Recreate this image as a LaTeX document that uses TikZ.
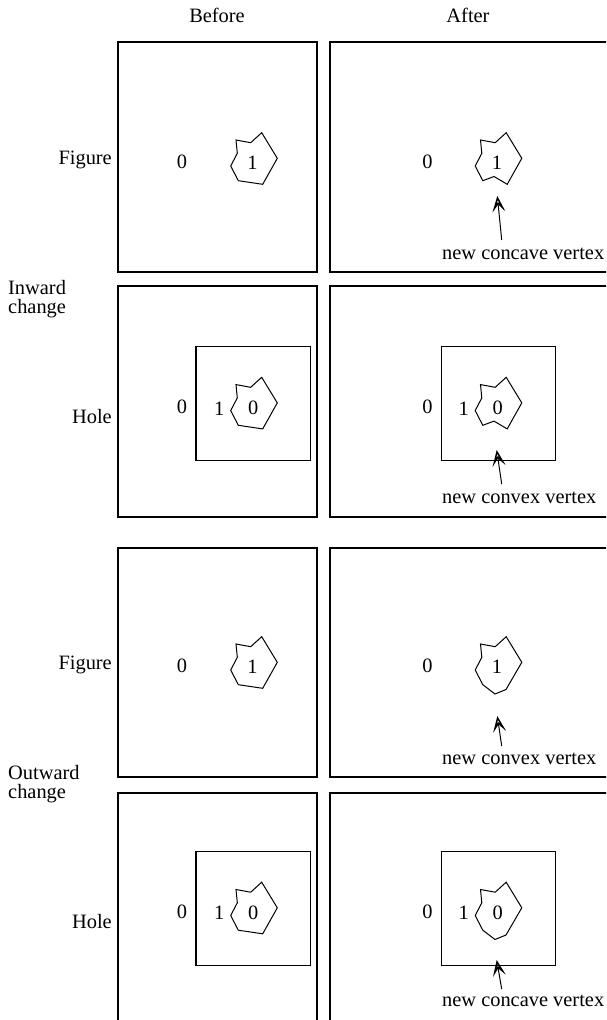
\documentclass[tikz,border=0pt]{standalone}
\usepackage{fontspec}
\setmainfont{Liberation Serif}
\usetikzlibrary{arrows.meta}
\begin{document}
\begin{tikzpicture}[x=1pt,y=-1pt,
  frame/.style={line width=1.3pt},
  blob/.style={line width=1pt, line join=miter},
  lbl/.style={font=\fontsize{20.4}{24}\selectfont, inner sep=0pt},
  ptr/.style={line width=1pt, -{Stealth[open, length=16pt, width=13pt, inset=7.5pt, line width=1.5pt]}}]
\useasboundingbox (0,0) rectangle (606,1020);
\clip (0,0) rectangle (606,1020);
% column headings
\node[lbl] (hb) at (217,15) {Before};
\node[lbl] (ha) at (468,15) {After};
% row labels
\node[lbl, anchor=east] (f1) at (112,160) {Figure};
\node[lbl, anchor=east] (h1) at (112,417) {Hole};
\node[lbl, anchor=east] (f2) at (112,665) {Figure};
\node[lbl, anchor=east] (h2) at (112,922) {Hole};
\node[lbl, anchor=base west] (in1) at (8,294) {Inward};
\node[lbl, anchor=base west] (in2) at (8,313) {change};
\node[lbl, anchor=base west] (out1) at (8,779) {Outward};
\node[lbl, anchor=base west] (out2) at (8,798) {change};
% outer frames
\foreach \r/\t/\b in {1/42/272, 2/286/517, 3/548/777, 4/793/1030}{
  \draw[frame] (118,\t) rectangle (317,\b);
  \draw[frame] (620,\t) -- (330,\t) -- (330,\b) -- (620,\b);
}
% inner frames (holes)
\foreach \dy in {0,505}{
  \draw[frame] (196,346.7+\dy) rectangle (310.7,460.7+\dy);
  \draw[frame] (441.5,346.7+\dy) rectangle (555.5,460.7+\dy);
}
% polygons: before column
\foreach \dy in {0,244.6,504,749.5}{
  \draw[blob] (261.7,132.7+\dy) -- (250.7,142.7+\dy) -- (236,140+\dy) -- (237.3,153.3+\dy) -- (230.7,166+\dy) -- (238.3,180.7+\dy) -- (262.7,184.3+\dy) -- (277.3,158.3+\dy) -- cycle;
}
% polygons: after column, inward (concave notch)
\foreach \dy in {0,244.6}{
  \begin{scope}[xshift=244.5pt, yshift=-\dy pt]
  \draw[blob] (261.7,132.7) -- (250.7,142.7) -- (236,140) -- (237.3,153.3) -- (230.7,166) -- (238.3,180.7) -- (249.5,176.5) -- (262.7,184.3) -- (277.3,158.3) -- cycle;
  \end{scope}
}
% polygons: after column, outward (bulge)
\foreach \dy in {504,749.5}{
  \begin{scope}[xshift=244.5pt, yshift=-\dy pt]
  \draw[blob] (261.7,132.7) -- (250.7,142.7) -- (236,140) -- (237.3,153.3) -- (230.7,166) -- (238.3,180.7) -- (250.5,190) -- (261.5,185.5) -- (277.3,158.3) -- cycle;
  \end{scope}
}
% number labels
\foreach \dy in {0,244.6,504,749.5}{
  \foreach \dx in {0,245.5}{
    \node[lbl] at (182+\dx,162+\dy) {0};
  }
}
\foreach \dy in {0,504}{
  \foreach \dx in {0,244.5}{
    \node[lbl] at (252.5+\dx,163+\dy) {1};
  }
}
\foreach \dy in {244.6,749.5}{
  \foreach \dx in {0,244.5}{
    \node[lbl] at (219.3+\dx,163.7+\dy) {1};
    \node[lbl] at (253.3+\dx,163.7+\dy) {0};
  }
}
% annotations
\node[lbl, anchor=west] (t1) at (442,254) {new concave vertex};
\node[lbl, anchor=west] (t2) at (442,498) {new convex vertex};
\node[lbl, anchor=west] (t3) at (442,759) {new convex vertex};
\node[lbl, anchor=west] (t4) at (442,1001) {new concave vertex};
\coordinate (s1) at (501.7,240); \coordinate (e1) at (497.3,196);
\coordinate (s2) at (501.7,484); \coordinate (e2) at (496.7,450);
\coordinate (s3) at (501.7,746); \coordinate (e3) at (497.3,716);
\coordinate (s4) at (501.7,989); \coordinate (e4) at (496.7,960);
\draw[ptr] (s1) -- (e1);
\draw[ptr] (s2) -- (e2);
\draw[ptr] (s3) -- (e3);
\draw[ptr] (s4) -- (e4);
\end{tikzpicture}
\end{document}
